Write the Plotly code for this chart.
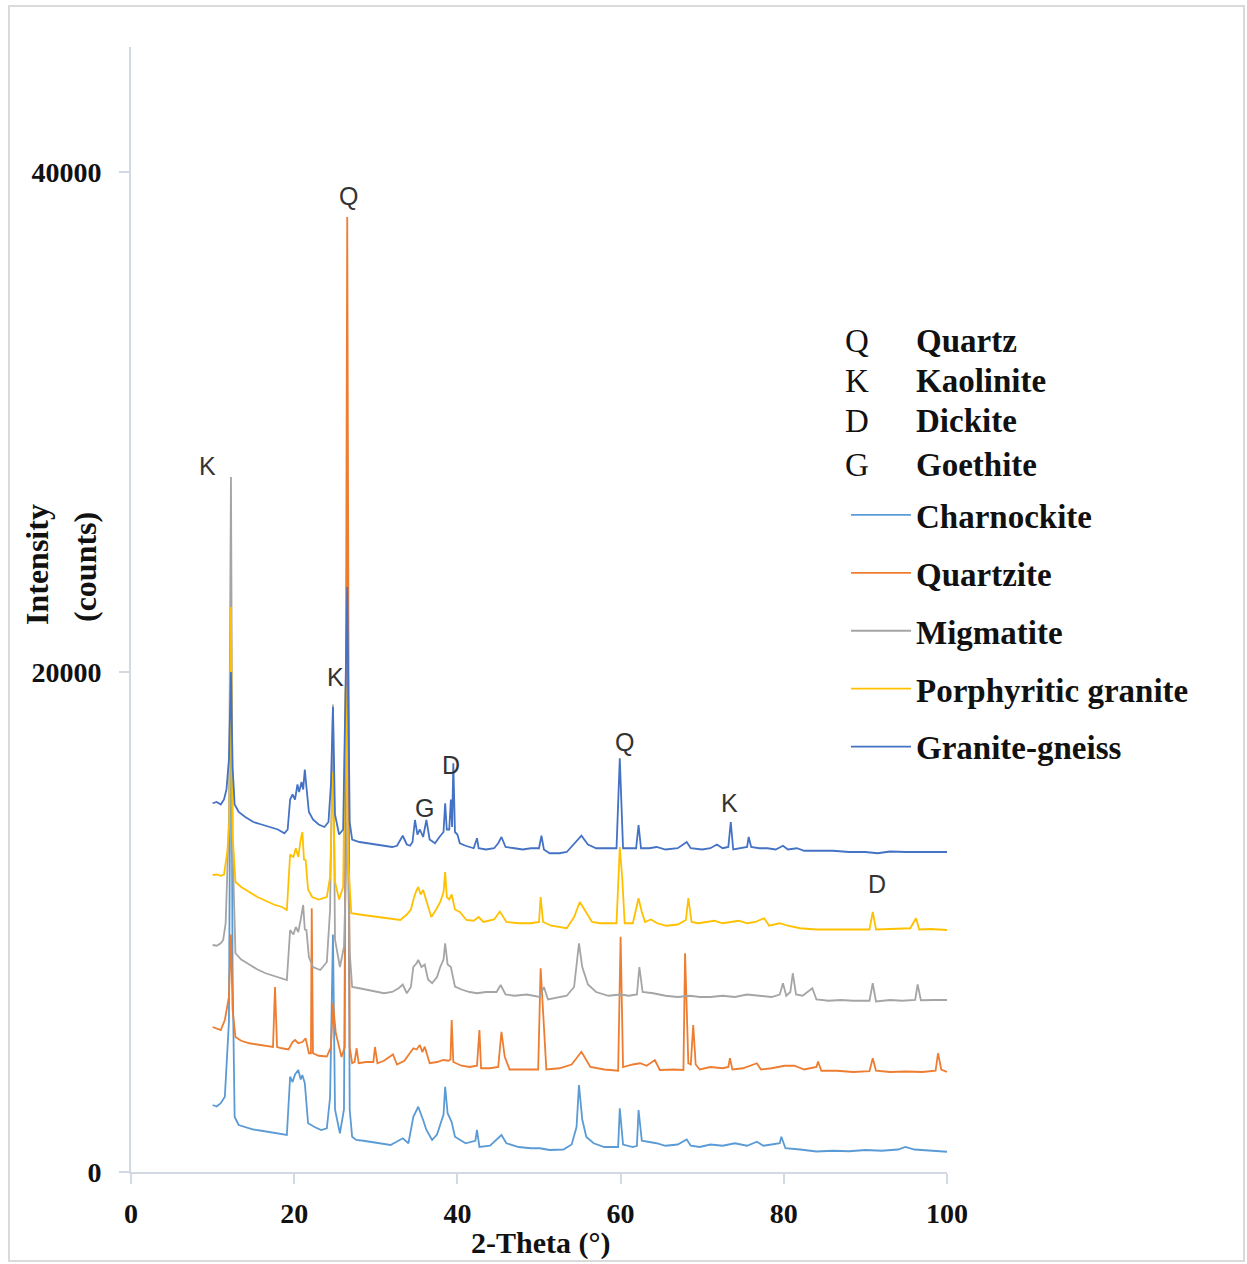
import plotly.graph_objects as go

# ---------------- data (2-theta in degrees, intensity in counts) ----------------
series_names = ["Charnockite", "Quartzite", "Migmatite", "Porphyritic granite", "Granite-gneiss"]
series_colors = ["#5B9BD5", "#ED7D31", "#A5A5A5", "#FFC000", "#4472C4"]

charnockite_2theta = [10.0, 10.5, 11.0, 11.5, 12.0, 12.25, 12.45, 12.7, 13.2, 14.0, 15.0, 16.0, 17.0, 18.0, 19.1,
    19.5, 19.8, 20.1, 20.5, 20.8, 21.0, 21.3, 21.7, 22.5, 23.3, 24.0, 24.4, 24.75, 25.0, 25.6, 26.1, 26.5, 26.8,
    27.1, 27.6, 28.5, 29.5, 30.5, 31.8, 32.5, 33.3, 34.0, 34.6, 35.2, 35.5, 35.8, 36.2, 36.9, 37.5, 37.9, 38.3,
    38.5, 38.8, 39.3, 39.7, 41.0, 42.2, 42.4, 42.7, 44.0, 45.4, 46.0, 47.5, 49.0, 50.1, 51.3, 53.0, 54.0, 54.6,
    54.9, 55.3, 55.8, 56.7, 58.0, 59.7, 59.9, 60.3, 61.5, 62.0, 62.2, 62.6, 64.4, 65.5, 67.0, 68.1, 68.6, 69.7,
    71.0, 72.5, 74.0, 75.5, 76.7, 77.5, 78.5, 79.5, 79.7, 80.2, 82.0, 84.0, 86.0, 88.0, 90.0, 92.0, 94.0, 94.9,
    96.0, 98.0, 100.0]
charnockite_counts = [2680, 2620, 2750, 3010, 6000, 21700, 8000, 2200, 1880, 1800, 1700, 1650, 1600, 1550, 1480,
    3810, 3600, 3900, 4080, 3700, 3880, 3550, 1950, 1800, 1680, 1750, 3000, 9500, 2500, 1550, 2500, 26480, 2500,
    1410, 1280, 1250, 1200, 1150, 1080, 1200, 1350, 1150, 2210, 2610, 2300, 2080, 1680, 1280, 1500, 1950, 2300,
    3410, 2350, 2000, 1410, 1150, 1250, 1680, 1000, 1050, 1480, 1150, 1000, 950, 950, 880, 900, 1100, 1800,
    3480, 2100, 1400, 1150, 1000, 1000, 2550, 1100, 1000, 1050, 2480, 1250, 1150, 1050, 1100, 1300, 1050, 1000,
    1100, 1050, 1150, 1050, 1210, 1050, 1100, 1150, 1410, 950, 900, 820, 850, 830, 880, 850, 900, 1000,
    900, 870, 810]

quartzite_2theta = [10.0, 10.5, 11.0, 11.5, 12.0, 12.25, 12.45, 12.8, 13.5, 14.5, 15.5, 16.5, 17.4, 17.65, 17.9,
    18.5, 19.3, 19.8, 20.1, 20.5, 21.0, 21.4, 21.8, 22.05, 22.15, 22.3, 23.0, 24.0, 24.5, 24.75, 25.1, 25.8, 26.2,
    26.5, 26.8, 27.1, 27.4, 27.65, 27.9, 28.8, 29.7, 29.9, 30.2, 31.0, 32.1, 32.6, 33.5, 34.6, 35.0, 35.4, 35.7,
    36.0, 36.6, 37.5, 38.3, 38.9, 39.15, 39.3, 39.5, 40.5, 41.5, 42.4, 42.7, 42.9, 44.0, 45.0, 45.4, 45.8, 46.4,
    48.0, 49.9, 50.2, 50.6, 50.9, 52.5, 54.0, 55.2, 56.3, 58.0, 59.7, 60.0, 60.3, 61.5, 62.4, 63.2, 64.2, 64.8,
    66.5, 67.7, 67.9, 68.3, 68.6, 68.9, 69.2, 69.7, 71.0, 72.5, 73.2, 73.4, 73.7, 75.0, 76.7, 77.2, 78.5, 80.1,
    81.3, 82.5, 84.0, 84.2, 84.6, 86.5, 88.5, 90.5, 90.9, 91.3, 93.0, 95.0, 97.0, 98.6, 98.9, 99.3, 100.0]
quartzite_counts = [5800, 5750, 5680, 6080, 7000, 9500, 6500, 5400, 5250, 5150, 5100, 5050, 5000, 7400, 5000,
    4950, 4900, 5200, 5280, 5150, 5200, 5350, 4750, 4750, 10550, 4750, 4650, 4620, 5000, 6750, 5550, 4600, 5000,
    38200, 5000, 4350, 4400, 4950, 4350, 4400, 4400, 5000, 4350, 4450, 4700, 4300, 4450, 4950, 4900, 5080, 4800,
    5010, 4350, 4400, 4480, 4450, 4500, 6080, 4400, 4250, 4200, 4250, 5680, 4150, 4150, 4200, 5610, 4610, 4100,
    4100, 4100, 8150, 6100, 4100, 4150, 4300, 4810, 4200, 4100, 4050, 9410, 4200, 4300, 4350, 4250, 4480, 4080,
    4100, 4080, 8750, 4350, 4300, 5880, 4300, 4100, 4200, 4150, 4200, 4550, 4100, 4150, 4350, 4100, 4150, 4250,
    4250, 4100, 4200, 4420, 4050, 4050, 4000, 4030, 4550, 4050, 4000, 4020, 4000, 4050, 4750, 4100, 4000]

migmatite_2theta = [10.0, 10.5, 11.0, 11.3, 11.6, 12.0, 12.25, 12.45, 12.8, 13.5, 14.5, 15.5, 16.5, 17.5, 18.5,
    19.1, 19.5, 19.9, 20.2, 20.5, 20.8, 21.1, 21.3, 21.5, 21.8, 22.3, 23.2, 24.0, 24.4, 24.75, 25.0, 25.6, 26.1,
    26.5, 26.8, 27.1, 28.0, 29.5, 31.0, 32.0, 32.8, 33.3, 33.8, 34.3, 34.6, 35.0, 35.2, 35.6, 36.0, 36.4, 36.9,
    37.5, 37.9, 38.3, 38.5, 38.8, 39.2, 39.7, 40.5, 41.5, 42.4, 43.5, 44.8, 45.3, 45.9, 47.0, 48.5, 50.1, 50.6,
    51.1, 52.5, 53.4, 54.3, 54.9, 55.3, 56.0, 57.0, 58.5, 60.0, 61.0, 62.0, 62.3, 62.7, 64.0, 65.5, 67.0, 68.5,
    69.7, 71.0, 72.5, 74.0, 75.5, 77.0, 78.5, 79.5, 79.9, 80.3, 80.8, 81.1, 81.5, 82.3, 83.5, 84.0, 85.5, 87.0,
    88.5, 90.5, 90.9, 91.3, 93.0, 94.5, 96.1, 96.4, 96.8, 98.5, 100.0]
migmatite_counts = [9080, 9050, 9150, 9280, 9950, 14000, 27800, 13000, 8750, 8500, 8300, 8100, 7950, 7850, 7750,
    7680, 9680, 9500, 9800, 9600, 10100, 10680, 9700, 9680, 8600, 8200, 8080, 8400, 10500, 18700, 9300, 8200, 9000,
    14000, 8800, 7400, 7350, 7250, 7150, 7200, 7350, 7500, 7150, 7400, 8200, 8350, 8480, 8200, 8300, 7700, 7550,
    7800, 8200, 8500, 9150, 8300, 8200, 7420, 7300, 7200, 7150, 7200, 7200, 7480, 7100, 7050, 7100, 7000, 7400,
    6900, 7000, 7050, 7400, 9150, 8200, 7500, 7200, 7050, 7100, 7050, 7100, 8200, 7200, 7150, 7050, 7000, 7050,
    7000, 7000, 7050, 7000, 7100, 7050, 7000, 7100, 7550, 7050, 7200, 7950, 7100, 7050, 7350, 6900, 6850, 6880,
    6850, 6850, 7550, 6820, 6880, 6850, 6880, 7500, 6870, 6880, 6880]

porphyritic_2theta = [10.0, 10.5, 11.0, 11.4, 11.8, 12.05, 12.25, 12.45, 12.8, 13.5, 14.5, 15.5, 16.5, 17.5, 18.5,
    19.1, 19.5, 19.9, 20.2, 20.5, 20.8, 21.0, 21.2, 21.4, 21.7, 22.2, 23.0, 24.0, 24.4, 24.75, 25.0, 25.5, 26.0,
    26.3, 26.6, 27.0, 28.0, 29.0, 30.0, 31.0, 32.0, 33.0, 33.8, 34.3, 34.6, 34.9, 35.2, 35.5, 35.8, 36.2, 36.8,
    37.4, 37.9, 38.3, 38.5, 38.7, 39.0, 39.3, 39.7, 40.3, 41.1, 42.0, 42.6, 43.2, 44.5, 45.2, 46.0, 47.5, 49.0,
    50.0, 50.2, 50.5, 51.5, 53.4, 54.3, 55.0, 55.4, 55.8, 56.5, 57.5, 59.5, 59.9, 60.2, 60.5, 61.5, 62.2, 62.6,
    63.0, 63.7, 64.5, 65.6, 67.0, 68.0, 68.3, 68.7, 69.5, 70.5, 71.5, 72.5, 73.5, 74.5, 75.5, 76.5, 77.6, 78.2,
    79.5, 80.5, 82.0, 84.0, 86.0, 88.0, 90.5, 90.9, 91.3, 93.0, 95.5, 96.2, 96.6, 98.0, 100.0]
porphyritic_counts = [11880, 11900, 11850, 11900, 12800, 14000, 22600, 13500, 11600, 11400, 11200, 11000, 10850,
    10700, 10600, 10480, 12700, 12600, 12950, 12600, 13300, 13600, 12500, 12480, 11300, 11000, 10900, 11000,
    11800, 16000, 11600, 10900, 11400, 19400, 12500, 10350, 10300, 10250, 10200, 10150, 10100, 10080, 10300,
    10500, 10880, 11200, 11400, 11100, 11280, 10880, 10200, 10500, 10800, 11200, 12000, 11000, 10900, 11100,
    10500, 10400, 10080, 10050, 10200, 10000, 10100, 10420, 10000, 9950, 9950, 10000, 11000, 10000, 9850, 9750,
    10200, 10800, 10600, 10350, 10000, 9950, 9950, 13000, 11760, 9950, 9950, 10950, 10400, 10000, 10100, 9950,
    9850, 9900, 10080, 10960, 10000, 9950, 10000, 10050, 9950, 10000, 10050, 9950, 10000, 10150, 9850, 9950,
    9850, 9750, 9700, 9700, 9700, 9700, 10400, 9700, 9720, 9750, 10150, 9700, 9720, 9680]

gneiss_2theta = [10.0, 10.5, 11.0, 11.4, 11.7, 12.0, 12.25, 12.45, 12.7, 13.2, 14.0, 15.0, 16.0, 17.0, 18.0, 18.8,
    19.2, 19.5, 19.8, 20.1, 20.4, 20.6, 20.9, 21.1, 21.3, 21.5, 21.8, 22.3, 23.0, 23.7, 24.2, 24.5, 24.75, 25.0,
    25.5, 26.0, 26.5, 26.8, 27.1, 28.0, 29.0, 30.0, 31.0, 32.0, 32.6, 33.3, 33.8, 34.2, 34.5, 34.8, 35.1, 35.4,
    35.8, 36.2, 36.6, 37.25, 37.8, 38.3, 38.5, 38.7, 39.0, 39.2, 39.35, 39.5, 39.7, 40.0, 40.3, 41.0, 42.0, 42.4,
    42.6, 43.5, 44.5, 45.0, 45.4, 45.9, 47.0, 48.0, 49.0, 50.0, 50.3, 50.6, 51.3, 52.5, 53.4, 54.2, 55.2, 56.0,
    57.0, 58.0, 59.5, 59.9, 60.3, 61.0, 61.9, 62.2, 62.5, 63.5, 64.4, 65.5, 67.0, 68.1, 68.6, 70.0, 71.0, 71.8,
    72.5, 73.2, 73.5, 73.8, 74.5, 75.5, 75.7, 76.0, 77.0, 78.0, 79.0, 79.9, 80.5, 81.6, 82.5, 84.0, 86.0, 88.0,
    90.0, 91.5, 93.0, 95.0, 97.0, 98.5, 100.0]
gneiss_counts = [14750, 14800, 14700, 14900, 15300, 16500, 20000, 16200, 14700, 14400, 14200, 14000, 13900, 13800,
    13700, 13550, 13700, 14900, 15100, 14900, 15500, 15200, 15600, 15300, 16100, 15400, 14400, 14100, 13900,
    13800, 14000, 15500, 18600, 14300, 13500, 13700, 23400, 14000, 13300, 13200, 13150, 13100, 13050, 13000,
    13050, 13450, 13100, 13050, 13200, 14080, 13500, 13700, 13400, 14080, 13300, 13150, 13400, 13600, 14750,
    13700, 13700, 14900, 13800, 16350, 13600, 13500, 13150, 13050, 12950, 13350, 12950, 12900, 12950, 13150,
    13400, 13000, 12950, 12900, 12950, 12950, 13450, 12900, 12750, 12750, 12800, 13100, 13450, 13100, 12950,
    12950, 12950, 16550, 12950, 12950, 12950, 13880, 12950, 12950, 13000, 12900, 12950, 13200, 12950, 12900,
    12950, 13100, 12950, 13000, 14000, 12900, 12950, 13000, 13400, 13000, 12950, 12950, 12900, 13050, 12900,
    12950, 12850, 12850, 12850, 12800, 12800, 12750, 12820, 12800, 12800, 12800, 12800]

series_x = [charnockite_2theta, quartzite_2theta, migmatite_2theta, porphyritic_2theta, gneiss_2theta]
series_y = [charnockite_counts, quartzite_counts, migmatite_counts, porphyritic_counts, gneiss_counts]

# phase labels on peaks
peak_labels = ["K", "Q", "K", "G", "D", "Q", "K", "D"]
peak_label_x = [9.4, 26.6, 25.0, 36.0, 39.2, 60.5, 73.4, 91.4]
peak_label_y = [28240, 39040, 19800, 14560, 16280, 17200, 14760, 11520]

# mineral key
key_letters = ["Q", "K", "D", "G"]
key_names = ["Quartz", "Kaolinite", "Dickite", "Goethite"]

x_ticks = [0, 20, 40, 60, 80, 100]
y_ticks = [0, 20000, 40000]

# ---------------- figure ----------------
W, H = 1247, 1264
L, R, T, B = 131, 300, 47, 92
plot_w = W - L - R
plot_h = H - T - B

def px_to_paper_x(px):
    return (px - L) / plot_w

def py_to_paper_y(py):
    return (H - B - py) / plot_h

SERIF = "Liberation Serif, Times New Roman, serif"
SANS = "Liberation Sans, Arial, sans-serif"
axis_col = "#D3D9E3"

fig = go.Figure()
for i, name in enumerate(series_names):
    fig.add_trace(go.Scatter(
        x=series_x[i], y=series_y[i], mode="lines", name=name,
        legendgroup=name,
        line=dict(color=series_colors[i], width=1.8),
    ))

annotations = []
for lab, lx, ly in zip(peak_labels, peak_label_x, peak_label_y):
    annotations.append(dict(x=lx, y=ly, xref="x", yref="y", text=lab, showarrow=False,
                            font=dict(family=SANS, size=25, color="#333333")))

key_rows_py = [341, 381, 421, 465]
for letter, nm, py in zip(key_letters, key_names, key_rows_py):
    annotations.append(dict(x=px_to_paper_x(857), y=py_to_paper_y(py), xref="paper", yref="paper",
                            text=letter, showarrow=False, xanchor="center", yanchor="middle",
                            font=dict(family=SERIF, size=33, color="#111111")))
    annotations.append(dict(x=px_to_paper_x(914), y=py_to_paper_y(py), xref="paper", yref="paper",
                            text=nm, showarrow=False, xanchor="left", yanchor="middle",
                            font=dict(family=SERIF, size=33, color="#111111", weight="bold")))

annotations.append(dict(x=px_to_paper_x(540), y=py_to_paper_y(1243), xref="paper", yref="paper",
                        text="2-Theta (°)", showarrow=False, xanchor="center", yanchor="middle",
                        font=dict(family=SERIF, size=30, color="#111111", weight="bold")))
annotations.append(dict(x=px_to_paper_x(37), y=py_to_paper_y(565), xref="paper", yref="paper",
                        text="Intensity", showarrow=False, textangle=-90, xanchor="center", yanchor="middle",
                        font=dict(family=SERIF, size=32, color="#111111", weight="bold")))
annotations.append(dict(x=px_to_paper_x(85), y=py_to_paper_y(567), xref="paper", yref="paper",
                        text="(counts)", showarrow=False, textangle=-90, xanchor="center", yanchor="middle",
                        font=dict(family=SERIF, size=32, color="#111111", weight="bold")))

fig.update_layout(
    width=W, height=H,
    margin=dict(l=L, r=R, t=T, b=B, autoexpand=False),
    paper_bgcolor="white", plot_bgcolor="white",
    showlegend=True,
    legend=dict(x=px_to_paper_x(846), y=py_to_paper_y(487), xanchor="left", yanchor="top",
                font=dict(family=SERIF, size=33, color="#111111", weight="bold"),
                bgcolor="rgba(0,0,0,0)", borderwidth=0, itemwidth=60,
                traceorder="grouped", tracegroupgap=12),
    annotations=annotations,
    xaxis=dict(range=[0, 100], tickvals=x_ticks, showgrid=False, zeroline=False,
               showline=True, linecolor=axis_col, linewidth=2,
               ticks="outside", ticklen=10, tickcolor=axis_col, tickwidth=2,
               ticklabelstandoff=5,
               tickfont=dict(family=SERIF, size=28, color="#111111", weight="bold")),
    yaxis=dict(range=[0, 45000], tickvals=y_ticks, tickformat="d", showgrid=False, zeroline=False,
               showline=True, linecolor=axis_col, linewidth=2,
               ticks="outside", ticklen=10, tickcolor=axis_col, tickwidth=2,
               ticklabelstandoff=12,
               tickfont=dict(family=SERIF, size=28, color="#111111", weight="bold")),
    shapes=[dict(type="rect", xref="paper", yref="paper",
                 x0=px_to_paper_x(9), x1=px_to_paper_x(1244),
                 y0=py_to_paper_y(1261), y1=py_to_paper_y(6),
                 line=dict(color="#DADADA", width=2), fillcolor="rgba(0,0,0,0)", layer="below")],
)

fig.write_html("out.html", config={"displayModeBar": False},
               post_script="document.body.style.margin='0';document.body.style.overflow='hidden';")
